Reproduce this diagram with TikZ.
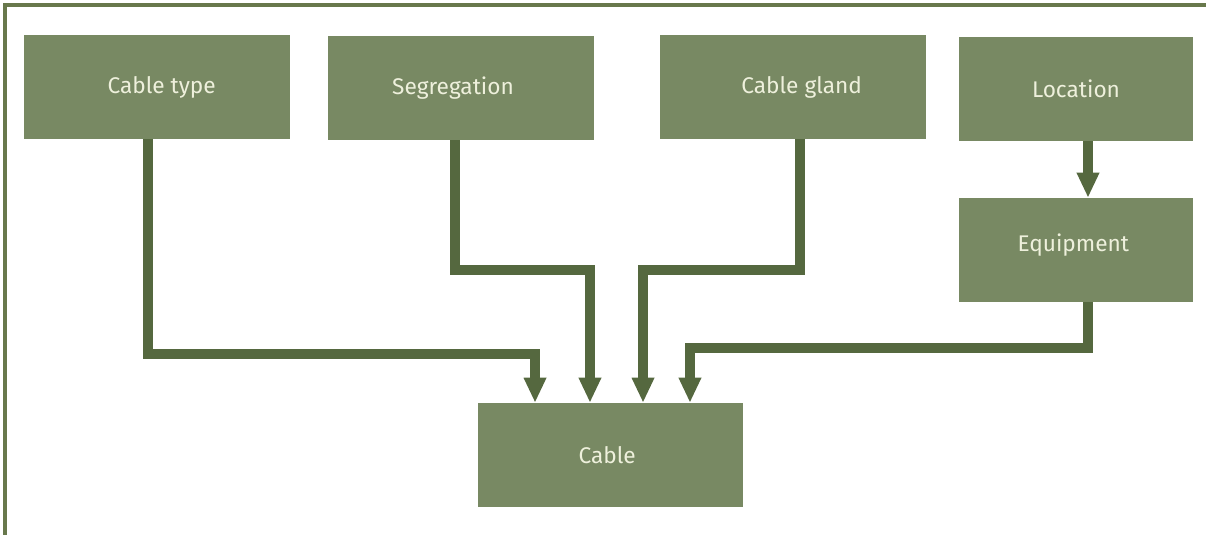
\documentclass[tikz,border=0pt]{standalone}
\usepackage{fontspec}
\setmainfont{Fira Sans}
\usetikzlibrary{arrows.meta}
\definecolor{boxfill}{HTML}{788963}
\definecolor{arrowcol}{HTML}{55683F}
\definecolor{labeltext}{HTML}{EEF0DC}
\definecolor{framecol}{HTML}{68784C}
\tikzset{
  box/.style={fill=boxfill, draw=none, inner sep=0pt, minimum height=78pt,
    text=labeltext, font=\fontsize{17}{20}\selectfont},
  flow/.style={draw=arrowcol, line width=7.5pt,
    -{Triangle[width=15.75pt,length=18.75pt]}},
  frame/.style={draw=framecol, line width=2.6pt}
}
\begin{document}
\begin{tikzpicture}[x=0.75pt,y=-0.75pt]
  \useasboundingbox (0,0) rectangle (1206,535);
  % frame along the top and left edges
  \draw[frame] (5,535) -- (5,5) -- (1206,5);

  % boxes
  \node[box, minimum width=199.5pt] (ctype) at (157,87) {\hspace*{7pt}Cable type};
  \node[box, minimum width=199.5pt] (seg)   at (461,88) {Segregation\hspace*{12pt}};
  \node[box, minimum width=199.5pt] (gland) at (793,87) {\hspace*{13pt}Cable gland};
  \node[box, minimum width=175.5pt] (loc)   at (1076,89) {Location};
  \node[box, minimum width=175.5pt] (equip) at (1076,250) {\raisebox{10.5pt}{Equipment}\hspace*{4pt}};
  \node[box, minimum width=198.75pt] (cable) at (610.5,455) {Cable\hspace*{5pt}};

  % connectors
  \draw[flow] ([xshift=-6.75pt]ctype.south) -- ++(0,215) -| ([xshift=-56.6pt]cable.north);
  \draw[flow] ([xshift=-4.5pt]seg.south) -- ++(0,130) -| ([xshift=-15.4pt]cable.north);
  \draw[flow] ([xshift=5.25pt]gland.south) -- ++(0,131) -| ([xshift=24.4pt]cable.north);
  \draw[flow] ([xshift=9pt]equip.south) -- ++(0,46) -| ([xshift=59.6pt]cable.north);
  \draw[flow] ([xshift=9pt]loc.south) -- ([xshift=9pt]equip.north);
\end{tikzpicture}
\end{document}
